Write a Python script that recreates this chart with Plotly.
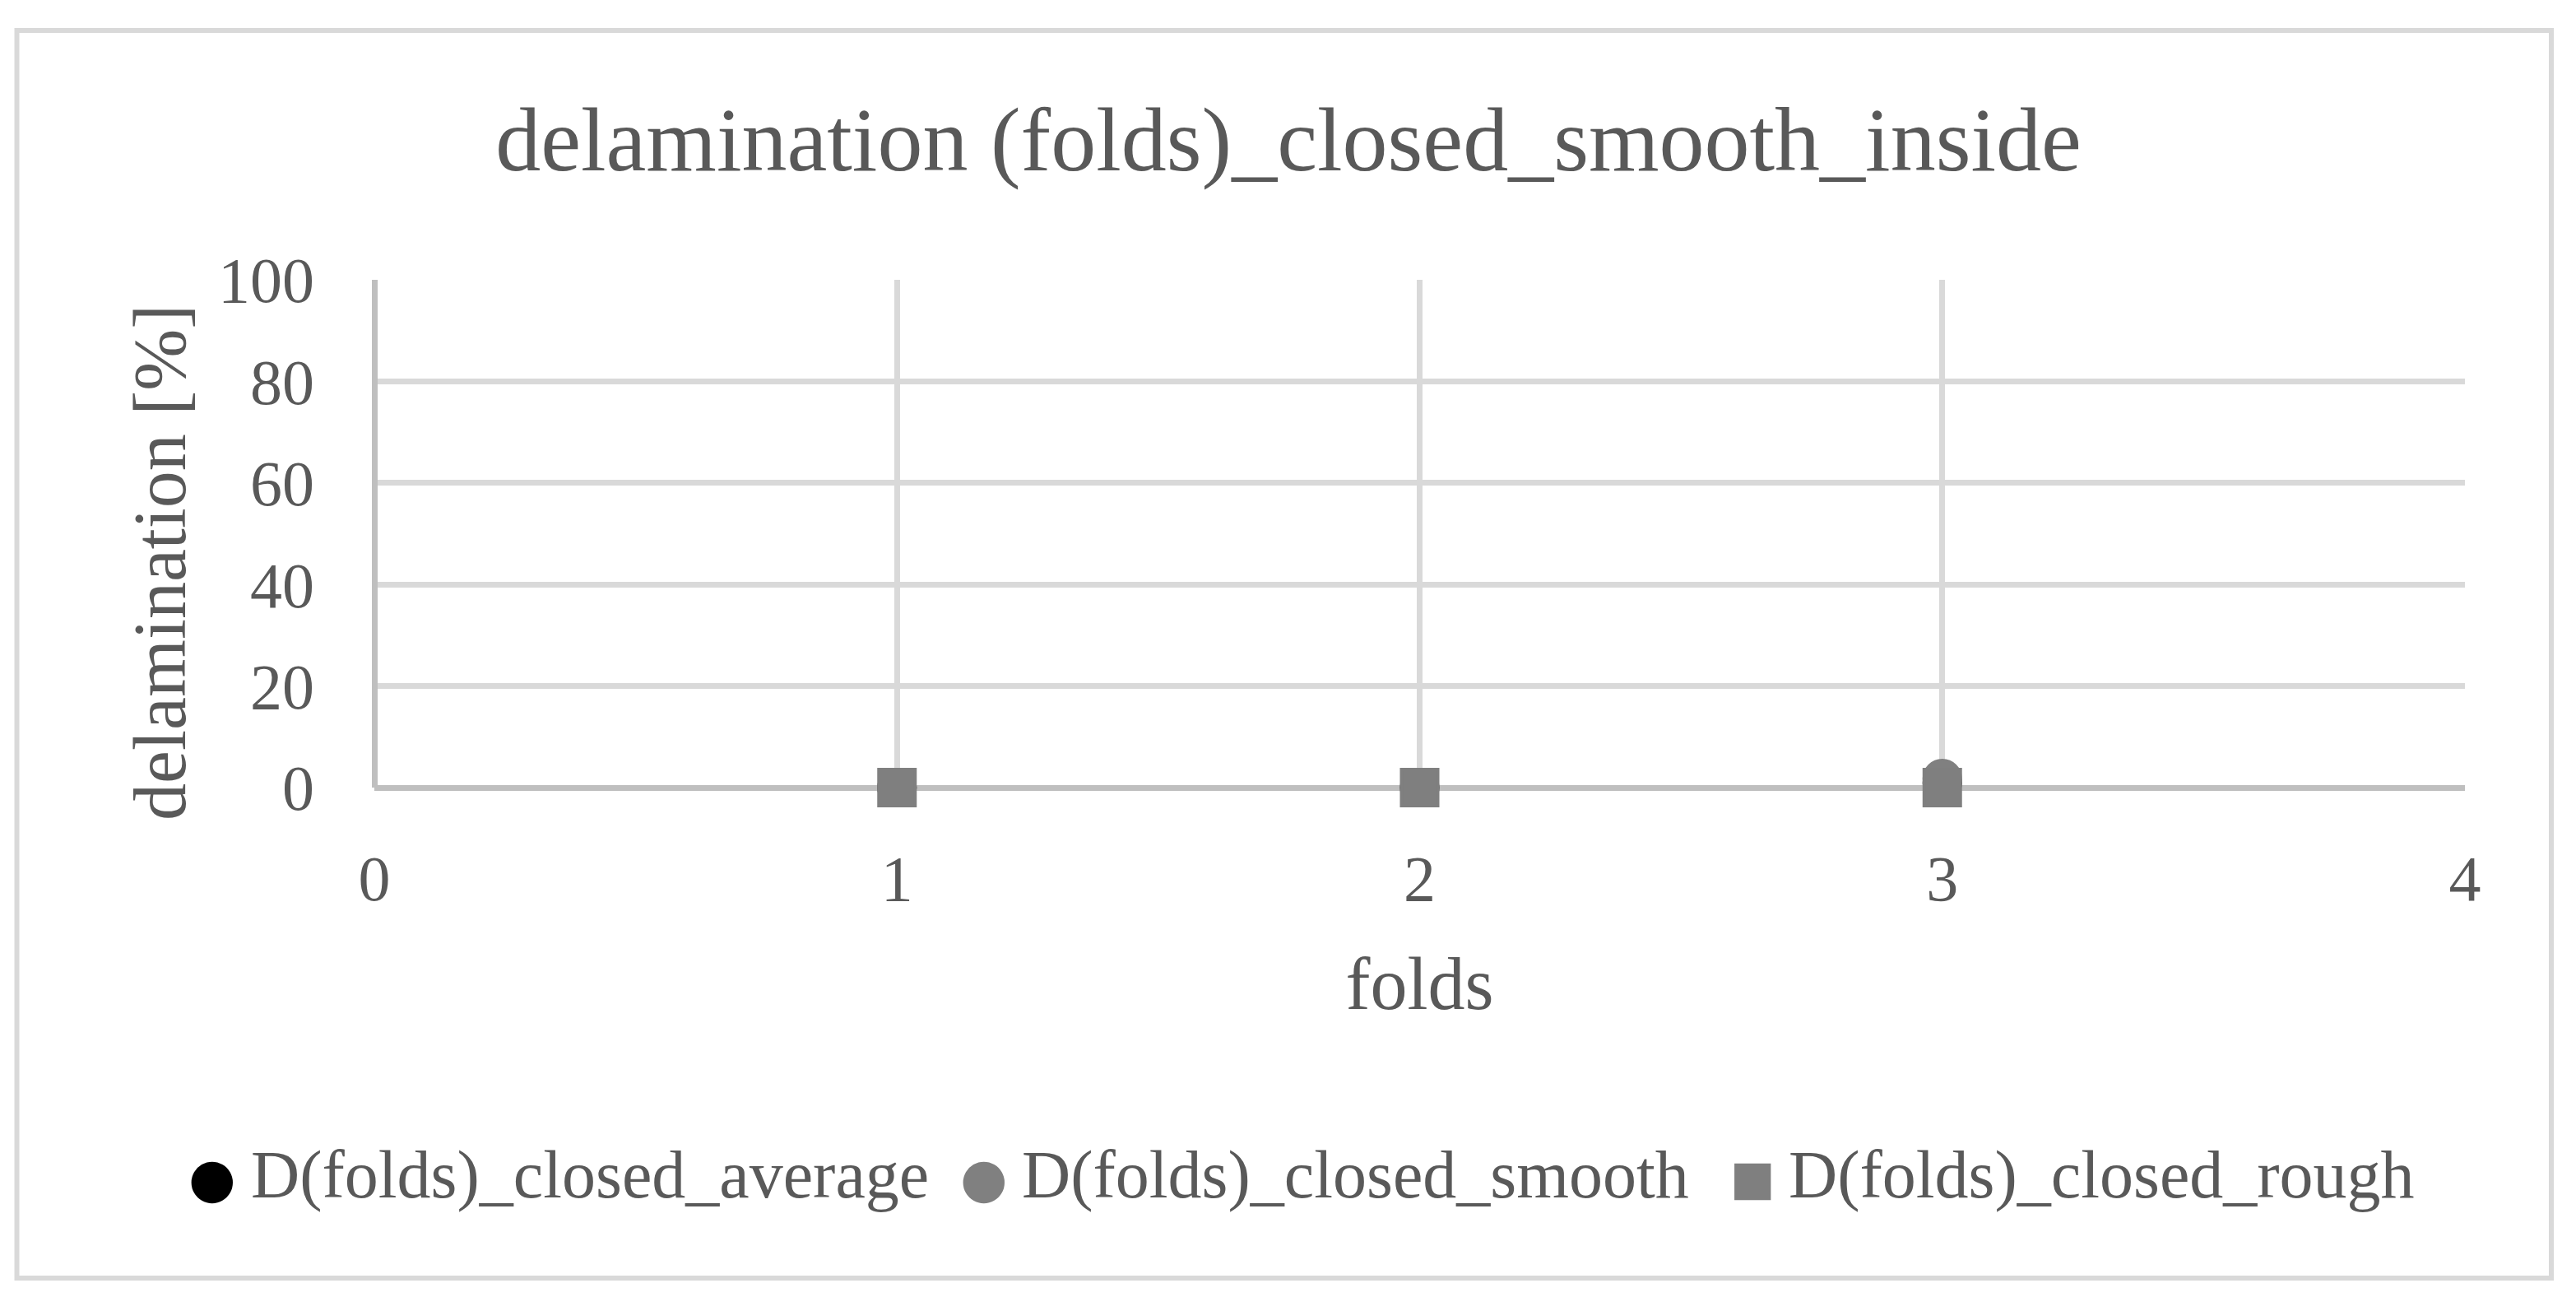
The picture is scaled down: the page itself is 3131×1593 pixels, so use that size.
import plotly.graph_objects as go

# data
folds = [1, 2, 3]
d_average = [0, 0, 0.9]
d_smooth = [0, 0, 1.8]
d_rough = [0, 0, 0]

series_names = ["D(folds)_closed_average", "D(folds)_closed_smooth", "D(folds)_closed_rough"]
series_colors = ["#000000", "#808080", "#7f7f7f"]
series_glyphs = ["●", "●", "■"]
x_ticks = [0, 1, 2, 3, 4]
y_ticks = [0, 20, 40, 60, 80, 100]

W, H = 3131, 1593
OFF = 8  # the page body adds an 8px margin, so pixel targets are shifted by it
L, R, T, B = 455 - OFF, 135 + OFF, 340 - OFF, 636 + OFF
FONT = "Palatino Linotype, Book Antiqua, Palatino, Liberation Serif, serif"
TXT = "#595959"

fig = go.Figure()

# average first so the other two sit on top of it
fig.add_trace(go.Scatter(x=folds, y=d_average, mode="markers", name=series_names[0], cliponaxis=False,
                         marker=dict(symbol="circle", size=45, color=series_colors[0],
                                     line=dict(width=3, color=series_colors[0]))))
fig.add_trace(go.Scatter(x=folds, y=d_smooth, mode="markers", name=series_names[1], cliponaxis=False,
                         marker=dict(symbol="circle", size=45, color=series_colors[1],
                                     line=dict(width=3, color=series_colors[1]))))
fig.add_trace(go.Scatter(x=folds, y=d_rough, mode="markers", name=series_names[2], cliponaxis=False,
                         marker=dict(symbol="square", size=44, color=series_colors[2],
                                     line=dict(width=4, color=series_colors[2]))))

pw = W - L - R
ph = H - T - B

def px_x(p):
    return (p - OFF - L) / pw

def px_y(p):
    return (H - B - (p - OFF)) / ph

# outer chart border (light grey frame)
fig.add_shape(type="rect", xref="paper", yref="paper",
              x0=px_x(20.5), x1=px_x(3101), y0=px_y(1553), y1=px_y(37),
              line=dict(color="#d9d9d9", width=6), fillcolor="rgba(0,0,0,0)", layer="below")

# legend drawn by hand: coloured glyph + label (symbols bigger than plotly's legend allows)
glyph_x = [258, 1196, 2130]
label_x = [303, 1240, 2172]
glyph_sizes = [66, 66, 58]
for name, col, gl, gs, gx, lx in zip(series_names, series_colors, series_glyphs, glyph_sizes, glyph_x, label_x):
    fig.add_annotation(text=gl, xref="paper", yref="paper", x=px_x(gx), y=px_y(1431),
                       xanchor="center", yanchor="middle", showarrow=False,
                       font=dict(family="DejaVu Sans", size=gs, color=col))
    fig.add_annotation(text=name, xref="paper", yref="paper", x=px_x(lx), y=px_y(1427),
                       xanchor="left", yanchor="middle", showarrow=False,
                       font=dict(family=FONT, size=82, color=TXT))

# y-axis title, centred a little below the plot middle as in the reference
fig.add_annotation(text="delamination [%]", xref="paper", yref="paper",
                   x=px_x(194), y=px_y(684), xanchor="center", yanchor="middle",
                   textangle=-90, showarrow=False,
                   font=dict(family=FONT, size=90, color=TXT))

fig.update_layout(
    width=W, height=H,
    margin=dict(l=L, r=R, t=T, b=B),
    paper_bgcolor="white",
    plot_bgcolor="white",
    showlegend=False,
    title=dict(text="delamination (folds)_closed_smooth_inside",
               x=(1566 - OFF) / W, xanchor="center", y=1 - (176 - 2 * OFF) / H, yanchor="middle",
               yref="container", xref="container",
               font=dict(family=FONT, size=110, color=TXT)),
    xaxis=dict(
        range=[0, 4], tickvals=x_ticks, ticktext=[str(v) for v in x_ticks],
        showgrid=True, gridcolor="#d9d9d9", gridwidth=7,
        zeroline=True, zerolinecolor="#bfbfbf", zerolinewidth=7,
        showline=False, ticks="",
        tickfont=dict(family=FONT, size=78, color=TXT),
        ticklabelstandoff=58,
        title=dict(text="folds", font=dict(family=FONT, size=90, color=TXT), standoff=52),
        automargin=False,
    ),
    yaxis=dict(
        range=[0, 100], tickvals=y_ticks, ticktext=[str(v) for v in y_ticks],
        showgrid=True, gridcolor="#d9d9d9", gridwidth=7,
        zeroline=True, zerolinecolor="#bfbfbf", zerolinewidth=7,
        showline=False, ticks="",
        tickfont=dict(family=FONT, size=78, color=TXT),
        ticklabelstandoff=72,
        automargin=False,
    ),
)

fig.write_html("out.html")
